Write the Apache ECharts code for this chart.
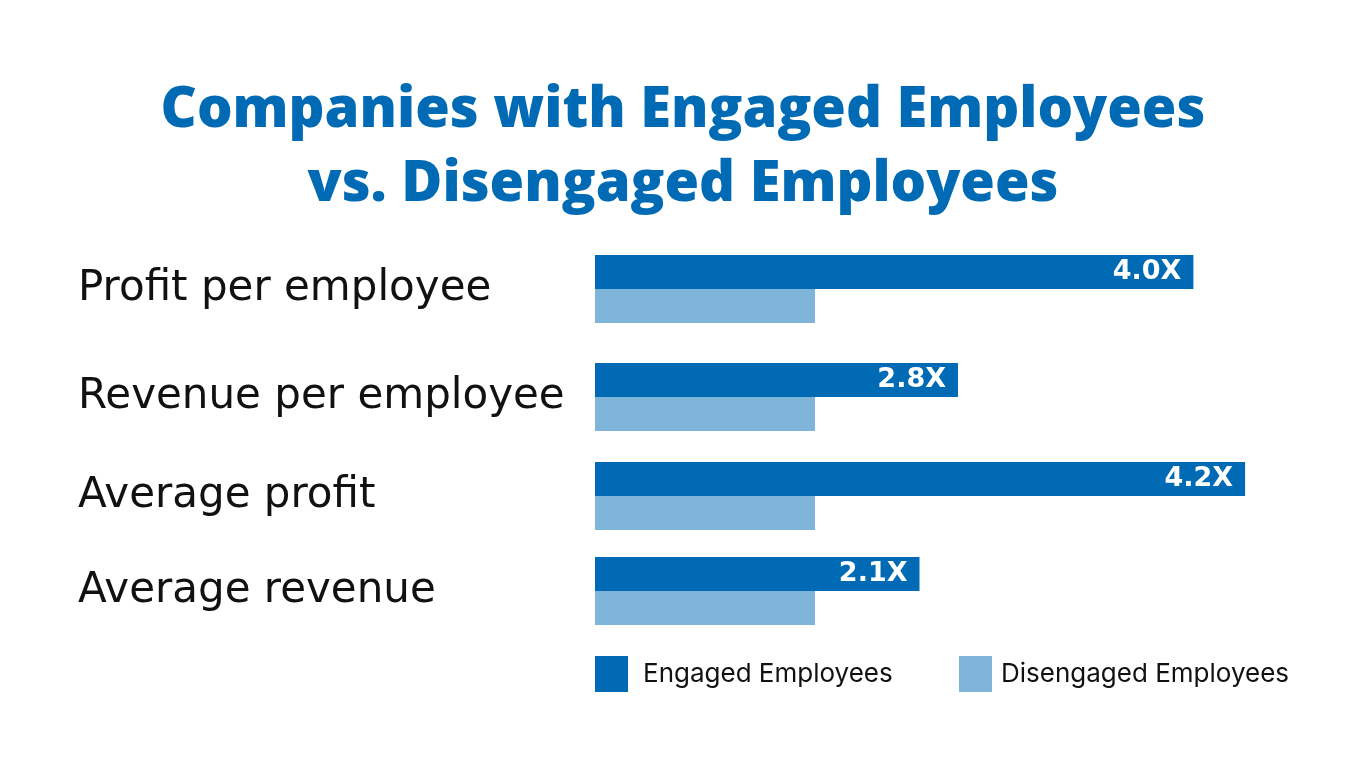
<!DOCTYPE html>
<html>
<head>
<meta charset="utf-8">
<script src="https://cdn.jsdelivr.net/npm/echarts@6/dist/echarts.min.js"></script>
<style>html,body{margin:0;padding:0;background:#fff}#c{width:1366px;height:768px}</style>
</head>
<body>
<div id="c"></div>
<script>
// Data (bar lengths relative to the disengaged bar = 1)
var categories = ['Profit per employee', 'Revenue per employee', 'Average profit', 'Average revenue'];
var engagedValues = [2.72, 1.65, 2.955, 1.475];
var disengagedValues = [1.0, 1.0, 1.0, 1.0];
var engagedLabels = ['4.0X', '2.8X', '4.2X', '2.1X'];
var seriesNames = ['Engaged Employees', 'Disengaged Employees'];
var titleLines = ['Companies with Engaged Employees', 'vs. Disengaged Employees'];

var BLUE = '#006BB4';
var LIGHT = '#80B5DA';
var gridTops = [255, 363, 462, 557];

var grids = [], xAxes = [], yAxes = [], series = [];
categories.forEach(function (cat, i) {
  grids.push({ left: 595, right: 111, top: gridTops[i], height: 68 });
  xAxes.push({ gridIndex: i, type: 'value', min: 0, max: 3, show: false });
  yAxes.push({
    gridIndex: i, type: 'category', inverse: true, data: [cat],
    axisLine: { show: false }, axisTick: { show: false },
    axisLabel: { align: 'left', margin: 517, fontFamily: 'DejaVu Sans', fontSize: 42, color: '#111',
      padding: [3, 0, 0, 0] }
  });
  series.push({
    name: seriesNames[0], type: 'bar', xAxisIndex: i, yAxisIndex: i,
    data: [engagedValues[i]], barWidth: 34, barGap: '0%', itemStyle: { color: BLUE },
    label: { show: true, position: 'insideRight', distance: 12, formatter: engagedLabels[i],
      color: '#fff', fontFamily: 'DejaVu Sans', fontWeight: 'bold', fontSize: 27 },
    silent: true, animation: false
  });
  series.push({
    name: seriesNames[1], type: 'bar', xAxisIndex: i, yAxisIndex: i,
    data: [disengagedValues[i]], barWidth: 34, barGap: '0%', itemStyle: { color: LIGHT },
    silent: true, animation: false
  });
});

var titleStyle = { fontFamily: 'Open Sans', fontWeight: 800, fontSize: 56, color: BLUE };
var chart = echarts.init(document.getElementById('c'));
chart.setOption({
  backgroundColor: '#fff',
  animation: false,
  title: [
    { text: titleLines[0], left: 'center', top: 83, padding: 0, textStyle: titleStyle },
    { text: titleLines[1], left: 'center', top: 157, padding: 0, textStyle: titleStyle }
  ],
  legend: [
    { data: [seriesNames[0]], left: 595, top: 656, padding: 0, itemWidth: 33, itemHeight: 36, icon: 'rect',
      selectedMode: false, textStyle: { fontFamily: 'Inter', fontSize: 26, color: '#111', padding: [3, 0, 0, 10] } },
    { data: [seriesNames[1]], left: 959, top: 656, padding: 0, itemWidth: 33, itemHeight: 36, icon: 'rect',
      selectedMode: false, textStyle: { fontFamily: 'Inter', fontSize: 26, color: '#111', padding: [3, 0, 0, 4] } }
  ],
  grid: grids, xAxis: xAxes, yAxis: yAxes, series: series
});
</script>
</body>
</html>
